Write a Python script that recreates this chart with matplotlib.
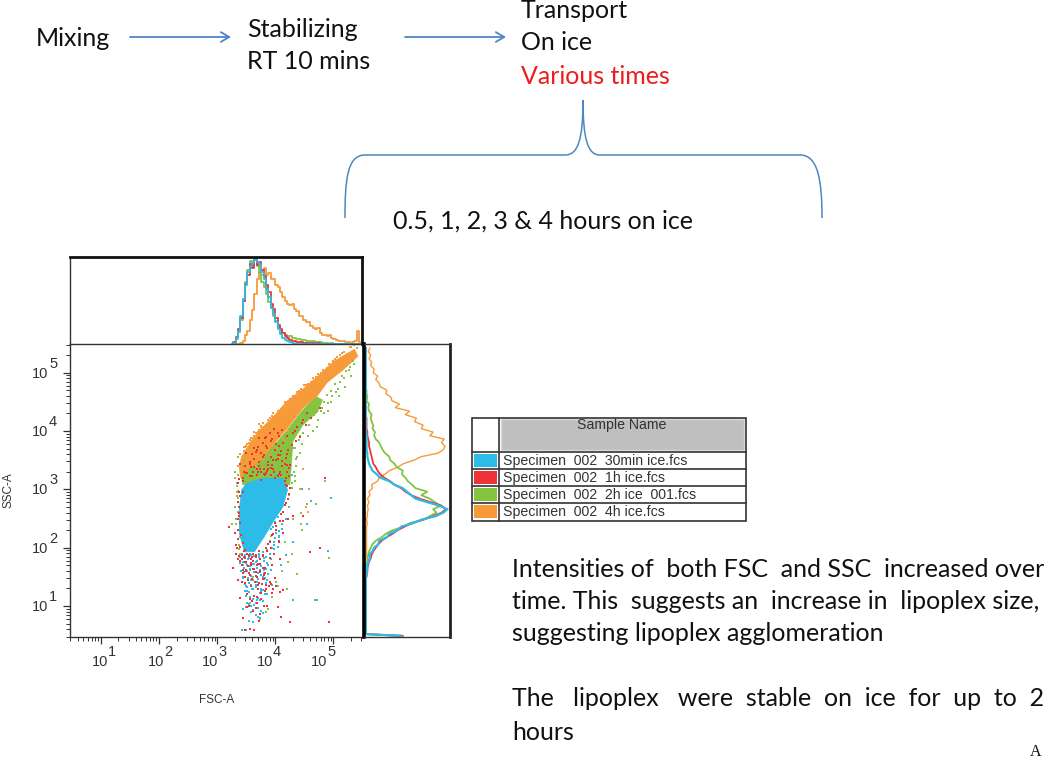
import numpy as np
import matplotlib
matplotlib.use("Agg")
import matplotlib.pyplot as plt
from matplotlib.patches import PathPatch, Rectangle, Polygon
from matplotlib.path import Path
from matplotlib.ticker import LogLocator, NullFormatter

# sample names and colours
sample_names = ["Specimen_002_30min ice.fcs", "Specimen_002_1h ice.fcs",
                "Specimen_002_2h ice_001.fcs", "Specimen_002_4h ice.fcs"]
sample_colors = ["#2dbbe8", "#ee3338", "#84c441", "#f79a3a"]

# FSC histogram, log10 bins from 3.26, step 0.04
fsc_blue = [0, .01, .07, .15, .33, .52, .68, .84, .90, .94, .99, .95, .93, .84, .75, .64, .54, .42, .35, .25,
            .17, .12, .07, .05, .03, .02, .01, 0, 0, 0, 0, 0, 0, 0, 0, 0, 0, 0, 0, 0, 0, 0, 0, 0, 0, 0, 0, 0, 0, 0, 0, 0, 0, 0, 0, 0]
fsc_red = [0, .02, .08, .17, .30, .50, .70, .80, .93, .88, 1.0, .92, .95, .86, .79, .68, .60, .47, .41, .30,
           .22, .17, .13, .09, .07, .05, .04, .03, .02, .02, .02, .01, .01, .01, .01, .01, 0, .01, 0, 0, 0, 0, 0, 0, 0, 0, 0, 0, 0, 0, 0, 0, 0, 0, 0, 0]
fsc_green = [0, .01, .06, .14, .28, .50, .72, .86, .96, .92, .98, .90, .82, .72, .66, .58, .49, .42, .33, .27,
             .20, .16, .13, .11, .09, .09, .07, .07, .06, .06, .05, .05, .04, .04, .03, .03, .02, .02, .02, .01, .01, .01, 0, .01, 0, 0, 0, 0, 0, 0, 0, 0, 0, 0, 0, 0]
fsc_orange = [0, 0, 0, 0, .01, .03, .10, .15, .28, .40, .58, .75, .84, .80, .88, .80, .82, .76, .75, .68,
              .66, .60, .54, .50, .47, .45, .46, .41, .38, .33, .33, .28, .25, .26, .21, .19, .17, .18, .13, .11,
              .10, .09, .10, .07, .06, .05, .04, .03, .03, .02, .02, .01, .02, .03, .15, .02]

# SSC histogram, log10 bins from 1.46, step 0.06
ssc_blue = [0, .01, .01, .02, .02, .03, .05, .04, .08, .10, .15, .16, .25, .28, .38, .42, .56, .66, .83, .92,
            .97, .87, .73, .59, .54, .49, .44, .34, .28, .17, .13, .08, .06, .04, .03, .02, .02, .01, .01, .01,
            .01, .01, 0, 0, 0, 0, 0, 0, 0, 0, 0, 0, 0, 0, 0, 0, 0, 0, 0, 0, 0, 0, 0, 0, 0, 0, 0]
ssc_red = [0, .01, .02, .02, .03, .04, .06, .07, .09, .12, .15, .19, .25, .32, .38, .46, .55, .68, .80, .90,
           .95, .90, .77, .64, .54, .47, .42, .34, .29, .22, .17, .14, .12, .09, .08, .07, .06, .05, .04, .04,
           .03, .02, .02, .01, .01, .01, .01, 0, 0, 0, 0, 0, 0, 0, 0, 0, 0, 0, 0, 0, 0, 0, 0, 0, 0, 0, 0]
ssc_green = [0, .01, .01, .01, .01, .02, .02, .03, .04, .06, .08, .12, .19, .24, .32, .45, .52, .69, .76, .84,
             .80, .89, .82, .76, .66, .73, .59, .55, .50, .47, .43, .44, .37, .34, .29, .28, .23, .20, .18, .16,
             .12, .10, .11, .08, .09, .07, .06, .07, .04, .03, .04, .01, .02, .01, .01, 0, 0, 0, 0, 0, 0, 0, 0, 0, 0, 0, 0]
ssc_orange = [0, 0, 0, 0, 0, 0, 0, .01, .01, .01, .01, .01, .01, .01, .01, .01, .02, .01, .02, .02,
              .03, .02, .04, .02, .05, .04, .08, .07, .14, .16, .23, .28, .38, .45, .57, .66, .86, .92, .94, .90,
              .93, .76, .80, .66, .68, .58, .60, .47, .52, .35, .40, .31, .30, .24, .25, .17, .16, .12, .14, .09,
              .10, .06, .07, .04, .06, .03, .05]
ssc_floor = [.42, .44, .42, .40]

# population outlines on the dot plot, log10 FSC / log10 SSC
orange_x = [3.42, 3.58, 3.74, 3.97, 4.20, 4.49, 4.72, 5.00, 5.36, 5.42, 5.18, 4.89, 4.72, 4.47, 4.21, 4.01, 3.78, 3.56, 3.40, 3.38]
orange_y = [3.56, 3.82, 4.02, 4.25, 4.51, 4.73, 4.93, 5.19, 5.40, 5.28, 5.06, 4.83, 4.60, 4.39, 4.05, 3.82, 3.53, 3.36, 3.20, 3.40]
green_x = [3.67, 4.01, 4.21, 4.47, 4.70, 4.81, 4.73, 4.47, 4.30, 4.28, 4.25, 3.44, 3.40]
green_y = [3.53, 3.79, 4.02, 4.36, 4.59, 4.53, 4.33, 4.10, 3.82, 3.48, 3.08, 3.08, 3.30]
blue_x = [3.50, 3.78, 4.13, 4.21, 4.13, 3.98, 3.81, 3.64, 3.47, 3.38, 3.38, 3.42]
blue_y = [3.10, 3.19, 3.19, 2.99, 2.70, 2.47, 2.19, 1.93, 1.93, 2.25, 2.65, 2.99]

# single events outside the populations
dots_blue_x = [3.42, 3.50, 3.55, 3.62, 3.70, 3.45, 3.58, 3.66, 3.74, 3.82, 3.52, 3.60, 3.48, 3.68, 3.78, 3.88, 3.92, 3.56, 3.64, 3.40,
               3.46, 3.54, 3.72, 3.80, 3.86, 3.98, 4.06, 4.12, 4.24, 4.30, 4.46, 4.54, 4.62, 4.72, 4.90, 4.96, 4.30, 3.44, 3.50, 3.58,
               3.70, 3.76, 4.02, 4.28, 3.62, 3.52, 3.84, 3.94, 4.18, 4.10, 3.42, 3.48, 3.53, 3.59, 3.66, 3.72, 3.78, 3.84, 3.90, 3.44,
               3.50, 3.56, 3.62, 3.68, 3.74, 3.80, 3.86, 3.92, 3.98, 3.46, 3.52, 3.58, 3.64, 3.70, 3.76, 3.82, 3.49, 3.55, 3.61, 3.67,
               3.73, 3.79, 3.85, 3.57, 3.63, 3.69, 3.75, 4.00, 4.06, 4.12, 4.18, 3.95, 4.05, 3.40, 3.44, 3.48, 3.52, 3.56, 3.60, 3.64,
               3.68, 3.72, 3.76, 3.80, 3.84, 3.88, 3.41, 3.45, 3.49, 3.53, 3.57, 3.61, 3.65, 3.69, 3.73, 3.77, 3.81, 3.85, 3.47, 3.51,
               3.55, 3.59, 3.63, 3.67, 3.71, 3.75, 3.79, 3.50, 3.54, 3.58, 3.62, 3.66, 3.70, 3.74, 3.78, 3.90, 3.94, 3.98, 4.02, 4.06,
               3.92, 3.96, 4.00, 4.04]
dots_blue_y = [0.59, 0.59, 0.75, 0.73, 0.82, 0.95, 1.00, 1.05, 1.10, 1.20, 1.25, 1.30, 1.38, 1.42, 1.50, 1.55, 1.62, 1.62, 1.72, 1.74,
               1.66, 1.82, 1.84, 1.78, 1.96, 2.05, 2.20, 2.40, 2.70, 2.10, 3.00, 2.40, 2.80, 1.10, 1.95, 2.85, 1.10, 1.48, 1.18, 1.44,
               1.56, 1.30, 3.25, 3.25, 1.12, 1.06, 1.40, 1.36, 1.88, 1.70, 1.90, 1.86, 1.80, 1.88, 1.76, 1.86, 1.92, 1.84, 1.90, 1.70,
               1.74, 1.68, 1.78, 1.66, 1.72, 1.62, 1.74, 1.80, 1.98, 1.58, 1.60, 1.52, 1.58, 1.46, 1.54, 1.48, 1.34, 1.40, 1.30, 1.36,
               1.22, 1.28, 1.20, 1.16, 1.02, 1.10, 0.92, 2.16, 2.28, 2.32, 2.50, 2.00, 2.02, 1.84, 1.76, 1.88, 1.70, 1.90, 1.72, 1.86,
               1.78, 1.90, 1.68, 1.82, 1.64, 1.70, 1.60, 1.50, 1.62, 1.48, 1.64, 1.44, 1.58, 1.42, 1.62, 1.38, 1.56, 1.44, 1.26, 1.32,
               1.24, 1.36, 1.18, 1.32, 1.14, 1.26, 1.08, 0.98, 1.04, 0.90, 0.94, 0.84, 0.96, 0.80, 0.88, 2.12, 2.22, 2.10, 2.26, 2.18,
               2.32, 2.36, 2.44, 2.52]
dots_red_x = [3.28, 3.32, 3.36, 3.42, 3.48, 3.56, 3.64, 3.72, 3.45, 3.52, 3.60, 3.68, 3.76, 3.84, 3.92, 4.00, 3.35, 3.33, 3.30, 3.38,
              3.44, 3.50, 3.58, 3.66, 3.74, 3.82, 3.90, 3.98, 4.06, 4.14, 4.22, 4.10, 4.04, 4.26, 3.20, 4.92, 3.86, 3.78, 3.62, 3.54,
              3.46, 3.40, 4.30, 4.48, 4.60, 4.76, 4.85, 3.70, 3.80, 3.95, 4.08, 3.40, 3.36, 3.46, 3.58, 3.70, 3.82, 3.94, 4.06, 4.18,
              3.50, 3.64, 3.78, 3.92, 4.06, 4.20, 4.34, 4.48, 4.62, 4.76, 3.56, 3.72, 3.88, 4.04, 4.20, 4.36, 4.52, 3.66, 3.84, 4.02,
              3.37, 3.38, 3.36, 3.37, 3.39, 3.41, 3.44, 3.47, 3.51, 3.55, 3.60, 3.66, 3.72, 3.78, 3.84, 3.90, 3.96, 4.02, 4.08, 4.14,
              4.19, 4.23, 4.20, 4.16, 4.10, 4.04, 3.98, 3.92, 3.86, 3.80, 3.74, 3.68, 3.62, 3.56, 3.50, 3.44, 3.40, 3.39, 3.43, 3.48,
              3.53, 3.58, 3.63, 3.68, 3.73, 3.78, 3.83, 3.48, 3.54, 3.60, 3.66, 3.72, 3.78, 3.84, 3.90, 3.96, 4.02, 4.08, 4.14, 3.56,
              3.64, 3.72, 3.80, 3.88, 3.96, 4.04, 4.12, 4.20, 3.60, 3.68, 3.76, 3.84, 3.92, 4.00, 4.08, 4.16, 4.24, 3.70, 3.78, 3.86,
              3.94, 4.02, 4.10, 4.18, 4.26, 3.82, 3.90, 3.98, 4.06, 4.14, 4.22, 4.30, 4.38, 4.46, 4.54, 4.12, 4.28, 4.42, 3.76, 3.88,
              3.36, 3.35, 3.34, 3.37, 3.38, 3.36, 3.40, 3.42, 3.45, 3.48, 3.42, 3.46, 3.50, 3.54, 3.58, 3.62, 3.66, 3.70, 3.74, 3.78,
              3.44, 3.50, 3.56, 3.62, 3.68, 3.74, 3.80, 3.47, 3.53, 3.59, 3.65, 3.71, 3.77, 3.83, 3.89, 3.95, 3.51, 3.57, 3.63, 3.69,
              3.75, 3.81, 3.55, 3.61, 3.67, 3.73, 3.45, 3.52, 3.60, 3.68, 3.76, 3.84, 3.92, 4.00, 4.08, 4.16, 4.24, 3.48, 3.56, 3.64,
              3.72, 3.80, 3.88, 3.96, 4.04, 4.12, 4.20, 4.02, 4.06, 4.00, 3.94, 4.10, 4.14, 4.17, 4.22, 4.25, 4.18, 3.88, 3.92, 3.86]
dots_red_y = [1.66, 1.90, 1.44, 1.42, 0.59, 0.60, 0.59, 0.74, 0.80, 0.98, 1.08, 1.15, 1.22, 1.30, 1.38, 1.48, 1.80, 2.05, 2.25, 2.55,
              2.95, 1.60, 1.70, 1.58, 1.72, 1.66, 1.82, 1.90, 2.10, 2.25, 2.50, 0.82, 0.98, 0.72, 2.35, 0.72, 1.00, 1.85, 1.78, 1.88,
              1.95, 2.02, 2.55, 2.55, 1.92, 2.00, 3.20, 1.36, 1.54, 1.70, 1.80, 1.14, 3.10, 3.30, 3.38, 3.30, 3.25, 3.42, 3.26, 3.20,
              3.62, 3.70, 3.55, 3.82, 3.74, 3.92, 4.00, 4.18, 4.22, 4.40, 3.46, 3.88, 3.42, 3.96, 3.60, 3.82, 4.10, 3.64, 3.90, 3.50,
              3.18, 2.95, 2.78, 2.60, 2.42, 2.22, 2.08, 1.96, 1.90, 1.88, 1.84, 1.88, 1.95, 1.88, 2.00, 2.10, 2.24, 2.38, 2.46, 2.62,
              2.76, 2.92, 3.06, 3.14, 3.24, 3.22, 3.30, 3.24, 3.32, 3.26, 3.34, 3.24, 3.30, 3.22, 3.28, 3.20, 3.44, 2.88, 1.80, 1.76,
              1.68, 1.74, 1.64, 1.70, 1.60, 1.66, 1.56, 1.50, 1.56, 1.46, 1.52, 1.40, 1.46, 1.36, 1.42, 1.30, 1.34, 1.24, 1.28, 3.46,
              3.52, 3.40, 3.58, 3.46, 3.34, 3.52, 3.40, 3.30, 3.60, 3.68, 3.62, 3.74, 3.56, 3.68, 3.58, 3.44, 3.36, 3.72, 3.80, 3.70,
              3.86, 3.78, 3.66, 3.54, 3.42, 3.88, 3.96, 4.04, 3.92, 3.80, 3.68, 3.96, 4.06, 4.14, 4.30, 4.02, 3.76, 3.90, 3.30, 3.34,
              2.30, 2.15, 2.00, 1.86, 2.70, 2.50, 1.78, 1.70, 1.62, 1.82, 1.88, 1.84, 1.76, 1.86, 1.80, 1.90, 1.84, 1.72, 1.80, 1.66,
              1.56, 1.62, 1.54, 1.64, 1.50, 1.58, 1.46, 1.40, 1.44, 1.34, 1.42, 1.30, 1.38, 1.26, 1.34, 1.22, 1.20, 1.12, 1.18, 1.06,
              1.12, 1.00, 1.00, 0.92, 0.96, 0.86, 3.14, 3.28, 3.22, 3.34, 3.16, 3.28, 3.36, 3.20, 3.30, 3.14, 3.22, 3.40, 3.44, 3.38,
              3.46, 3.34, 3.42, 3.50, 3.58, 3.48, 3.42, 2.30, 2.12, 2.42, 2.22, 2.58, 2.46, 2.74, 2.84, 3.02, 3.08, 2.06, 2.00, 1.94]
dots_green_x = [3.25, 3.30, 3.34, 3.40, 3.56, 3.84, 3.95, 4.05, 4.12, 4.20, 4.28, 4.38, 4.44, 4.22, 4.46, 4.55, 4.68, 4.85, 4.70, 4.92,
                3.74, 3.88, 4.02, 3.30, 3.36, 3.62, 3.68, 3.92, 4.16, 4.30, 4.44, 4.58, 4.84, 5.10, 5.20, 5.30, 5.36, 4.95, 4.90, 3.42,
                4.36, 4.42, 4.50, 4.58, 4.66, 4.74, 4.80, 4.88, 4.96, 5.02, 5.08, 5.14, 5.22, 5.28, 5.34, 4.34, 4.40, 4.48, 4.56, 4.64,
                4.72, 4.36, 4.42, 4.28, 4.34, 4.24, 3.34, 3.35, 3.36, 3.33, 3.37, 3.38, 3.40, 3.42, 3.36, 3.44, 3.46, 4.32, 4.36, 4.30,
                4.52, 4.60, 4.78, 4.84, 4.90, 4.98, 5.04, 5.12, 5.18, 5.26, 4.38, 4.46, 4.34, 4.28, 3.38, 3.32, 3.36, 3.40, 3.34, 3.38]
dots_green_y = [2.40, 2.70, 3.05, 1.90, 1.05, 0.90, 1.16, 1.34, 1.60, 1.30, 1.90, 1.55, 2.40, 1.75, 2.30, 2.75, 1.10, 3.15, 2.75, 1.82,
                0.78, 0.95, 1.42, 3.30, 3.55, 1.50, 1.42, 2.20, 2.10, 2.50, 2.60, 3.00, 4.30, 4.60, 4.75, 4.95, 5.15, 4.50, 4.35, 0.59,
                4.00, 3.92, 4.18, 4.10, 4.28, 4.18, 4.40, 4.62, 4.68, 4.80, 4.72, 4.94, 5.02, 5.10, 5.20, 3.70, 3.84, 3.96, 3.92, 4.00,
                4.06, 3.40, 3.62, 3.10, 3.22, 2.90, 3.10, 2.86, 2.62, 2.40, 2.30, 2.04, 1.84, 2.92, 2.98, 3.40, 3.50, 3.30, 3.52, 3.70,
                4.20, 4.32, 4.34, 4.50, 4.48, 4.60, 4.66, 4.84, 4.90, 5.04, 3.56, 3.78, 3.14, 3.02, 2.70, 2.50, 3.24, 2.18, 2.88, 1.98]
dots_orange_x = [3.42, 3.36, 3.40, 3.48, 3.54, 3.60, 3.72, 3.80, 3.90, 4.00, 4.10, 4.20, 4.32, 4.44, 4.56, 4.70, 4.82, 4.94, 5.06, 5.18, 5.30, 5.36, 4.52, 4.56, 4.42, 4.48, 3.30, 3.34,
                 3.46, 3.52, 3.58, 3.64, 3.70, 3.76, 3.84, 3.94, 4.06, 4.16, 4.26, 4.38, 4.50, 4.62, 4.74, 4.88, 5.00, 5.12, 5.24, 5.34, 5.40,
                 3.62, 3.74, 3.86, 3.98, 4.10, 4.22, 3.66, 3.78, 3.90, 4.02, 4.14, 3.50, 3.58, 3.68, 3.80, 3.56, 3.66, 3.76, 3.88, 3.96, 4.08,
                 4.18, 4.30, 4.40, 4.52, 4.64, 4.78, 4.92, 5.02, 5.14, 5.28, 4.12, 3.96, 3.72, 3.46, 3.50, 3.58, 3.64, 3.78, 3.90, 4.04]
dots_orange_y = [3.50, 3.40, 3.60, 3.72, 3.80, 3.88, 4.02, 4.06, 4.14, 4.24, 4.36, 4.44, 4.60, 4.72, 4.80, 4.92, 5.04, 5.12, 5.26, 5.36, 5.44, 5.48, 2.70, 2.62, 3.00, 3.35, 3.20, 2.95,
                 3.66, 3.78, 3.78, 3.92, 3.98, 4.08, 4.10, 4.26, 4.32, 4.50, 4.54, 4.66, 4.78, 4.84, 4.98, 5.08, 5.20, 5.30, 5.32, 5.36, 5.42,
                 3.60, 3.68, 3.74, 3.88, 3.96, 4.00, 3.40, 3.50, 3.58, 3.70, 3.86, 3.30, 3.44, 3.34, 3.36, 3.84, 3.96, 4.06, 4.18, 4.24, 4.34,
                 4.46, 4.60, 4.68, 4.78, 4.90, 5.00, 5.14, 5.24, 5.34, 5.44, 4.40, 4.30, 4.12, 3.72, 3.74, 3.88, 3.98, 4.14, 4.22, 4.34]

# axis tick labels
decades = [1, 2, 3, 4, 5]

plt.rcParams['font.family'] = ['Liberation Sans', 'DejaVu Sans']
fig = plt.figure(figsize=(10.5, 7.6), dpi=100)
W, H = 1050.0, 760.0


def px_axes(x0, y0, x1, y1):
    return fig.add_axes([x0 / W, 1 - y1 / H, (x1 - x0) / W, (y1 - y0) / H])


low, high = 10 ** 0.47, 10 ** 5.49

# dot plot
ax = px_axes(70, 344, 362, 637)
ax.set_xscale("log")
ax.set_yscale("log")
ax.set_xlim(low, high)
ax.set_ylim(low, high)
for xs, ys, c in [(green_x, green_y, sample_colors[2]), (orange_x, orange_y, sample_colors[3])]:
    ax.add_patch(Polygon(np.column_stack([10.0 ** np.array(xs), 10.0 ** np.array(ys)]), closed=True, fc=c, ec=c, lw=0.5))
for xs, ys, c in [(dots_orange_x, dots_orange_y, sample_colors[3]), (dots_green_x, dots_green_y, sample_colors[2])]:
    ax.scatter(10.0 ** np.array(xs), 10.0 ** np.array(ys), s=2.8, marker="s", color=c, linewidths=0, zorder=2.2)
ax.add_patch(Polygon(np.column_stack([10.0 ** np.array(blue_x), 10.0 ** np.array(blue_y)]), closed=True,
                     fc=sample_colors[0], ec=sample_colors[0], lw=0.5, zorder=2.5))
ax.scatter(10.0 ** np.array(dots_blue_x), 10.0 ** np.array(dots_blue_y), s=2.8, marker="s", color=sample_colors[0], linewidths=0, zorder=2.8)
ax.scatter(10.0 ** np.array(dots_red_x), 10.0 ** np.array(dots_red_y), s=2.8, marker="s", color=sample_colors[1], linewidths=0, zorder=3)
for a in [ax.xaxis, ax.yaxis]:
    a.set_major_locator(LogLocator(base=10, numticks=8))
    a.set_minor_locator(LogLocator(base=10, subs=np.arange(2, 10) * 1.0, numticks=8))
    a.set_major_formatter(NullFormatter())
    a.set_minor_formatter(NullFormatter())
ax.tick_params(which="major", length=5, width=0.9, color="#333333")
ax.tick_params(which="minor", length=3, width=0.7, color="#333333")
for s in ["top", "right"]:
    ax.spines[s].set_visible(False)
for s in ["left", "bottom"]:
    ax.spines[s].set_color("#333333")
    ax.spines[s].set_linewidth(1.0)

# FSC histogram on top
ax_top = px_axes(70, 257, 362, 344)
for vals, c in zip([fsc_orange, fsc_green, fsc_red, fsc_blue], [sample_colors[3], sample_colors[2], sample_colors[1], sample_colors[0]]):
    bins = 3.26 + 0.04 * np.arange(len(vals))
    ax_top.plot(bins, vals, color=c, lw=1.3, drawstyle="steps-mid")
ax_top.set_xlim(0.47, 5.49)
ax_top.set_ylim(0, 1.01)
ax_top.set_xticks([])
ax_top.set_yticks([])
ax_top.spines["top"].set_linewidth(2.0)
ax_top.spines["top"].set_color("#111111")
ax_top.spines["right"].set_linewidth(2.0)
ax_top.spines["right"].set_color("#111111")
ax_top.spines["left"].set_linewidth(1.0)
ax_top.spines["left"].set_color("#333333")
ax_top.spines["bottom"].set_linewidth(1.0)
ax_top.spines["bottom"].set_color("#333333")

# SSC histogram on the right
ax_side = px_axes(364, 344, 450, 637)
for vals, floor, c, lw in zip([ssc_orange, ssc_green, ssc_red, ssc_blue], [ssc_floor[3], ssc_floor[2], ssc_floor[1], ssc_floor[0]],
                              [sample_colors[3], sample_colors[2], sample_colors[1], sample_colors[0]], [1.0, 1.3, 1.3, 1.6]):
    bins = 1.46 + 0.06 * np.arange(len(vals))
    ax_side.plot([floor, 0] + list(vals), [0.49, 0.52] + list(bins), color=c, lw=lw)
ax_side.set_xlim(-0.02, 1.0)
ax_side.set_ylim(0.47, 5.49)
ax_side.set_xticks([])
ax_side.set_yticks([])
ax_side.spines["left"].set_linewidth(2.6)
ax_side.spines["left"].set_color("#000000")
ax_side.spines["right"].set_linewidth(2.0)
ax_side.spines["right"].set_color("#222222")
ax_side.spines["top"].set_linewidth(1.0)
ax_side.spines["top"].set_color("#333333")
ax_side.spines["bottom"].set_linewidth(1.0)
ax_side.spines["bottom"].set_color("#333333")

# overlay in pixel coordinates for the annotations
ov = fig.add_axes([0, 0, 1, 1], zorder=10)
ov.set_xlim(0, W)
ov.set_ylim(H, 0)
ov.axis("off")
ov.patch.set_alpha(0)

grey = "#333333"
tick_x = [104, 160, 214, 269, 323]
for d, x in zip(decades, tick_x):
    ov.text(x + 4, 662, "10", fontsize=10.5, color=grey, ha="right", va="center")
    ov.text(x + 4, 652, str(d), fontsize=10.5, color=grey, ha="left", va="center")
tick_y = [607, 549, 490, 432, 374]
for d, y in zip(decades, tick_y):
    ov.text(48, y, "10", fontsize=10.5, color=grey, ha="right", va="center")
    ov.text(49, y - 10, str(d), fontsize=10.5, color=grey, ha="left", va="center")
ov.text(217, 700, "FSC-A", fontsize=8.5, color=grey, ha="center", va="center")
ov.text(8, 490, "SSC-A", fontsize=8.5, color=grey, ha="center", va="center", rotation=90)

# legend table
ov.add_patch(Rectangle((501, 419), 243, 31, fc="#bfbfbf", ec="#d8d8d8", lw=1))
ov.add_patch(Rectangle((472, 418), 274, 103, fc="none", ec="#333333", lw=1.2))
ov.plot([499, 499], [418, 521], color="#333333", lw=1.2)
row_tops = [452, 469, 486, 503]
for y, name, c in zip(row_tops, sample_names, sample_colors):
    ov.plot([472, 746], [y, y], color="#333333", lw=1.2)
    ov.add_patch(Rectangle((474, y + 2), 23, 13, fc=c, ec="none"))
    ov.text(503, y + 9, name.replace("_", "  "), fontsize=10.2, color="#333333", va="center", ha="left")
ov.text(622, 425, "Sample Name", fontsize=10.2, color="#333333", ha="center", va="center")

# flow diagram
body = ['Lato', 'DejaVu Sans']
blue_line = "#4f86c0"
fs = 18
ink = "#111111"
ov.text(36, 46, "Mixing", fontsize=fs, family=body, color=ink)
ov.text(247, 37, "Stabilizing", fontsize=fs, family=body, color=ink)
ov.text(247, 69, "RT 10 mins", fontsize=fs, family=body, color=ink)
ov.text(521, 18, "Transport", fontsize=fs, family=body, color=ink)
ov.text(521, 50, "On ice", fontsize=fs, family=body, color=ink)
ov.text(521, 84, "Various times", fontsize=fs, family=body, color="#ee1c1c")
ov.text(393, 229, "0.5, 1, 2, 3 & 4 hours on ice", fontsize=fs, family=body, color=ink)
for x0, x1 in [(130, 231), (405, 506)]:
    ov.annotate("", xy=(x1, 37), xytext=(x0, 37),
                arrowprops=dict(arrowstyle="->,head_length=0.6,head_width=0.35", color=blue_line, lw=1.3, shrinkA=0, shrinkB=0))
brace = [(Path.MOVETO, (345, 218)), (Path.CURVE4, (345, 180)), (Path.CURVE4, (347, 155)), (Path.CURVE4, (365, 155)),
         (Path.LINETO, (565, 155)), (Path.CURVE4, (578, 155)), (Path.CURVE4, (583, 140)), (Path.CURVE4, (583, 100)),
         (Path.CURVE4, (583, 140)), (Path.CURVE4, (588, 155)), (Path.CURVE4, (600, 155)),
         (Path.LINETO, (800, 155)), (Path.CURVE4, (818, 155)), (Path.CURVE4, (822, 180)), (Path.CURVE4, (822, 218))]
ov.add_patch(PathPatch(Path([p for _, p in brace], [c for c, _ in brace]), fc="none", ec=blue_line, lw=1.1))

# notes
notes = [("Intensities of  both FSC  and SSC  increased over", 577),
         ("time. This  suggests an  increase in  lipoplex size,", 609),
         ("suggesting lipoplex agglomeration", 641),
         ("The   lipoplex   were  stable  on  ice  for  up  to  2", 706),
         ("hours", 740)]
for line, y in notes:
    ov.text(512, y, line, fontsize=fs, family=body, color=ink)
ov.text(1036, 752, "A", fontsize=11.5, family=['Liberation Serif', 'DejaVu Serif'], ha="center", va="center", color=ink)

fig.savefig("out.png", dpi=100)
